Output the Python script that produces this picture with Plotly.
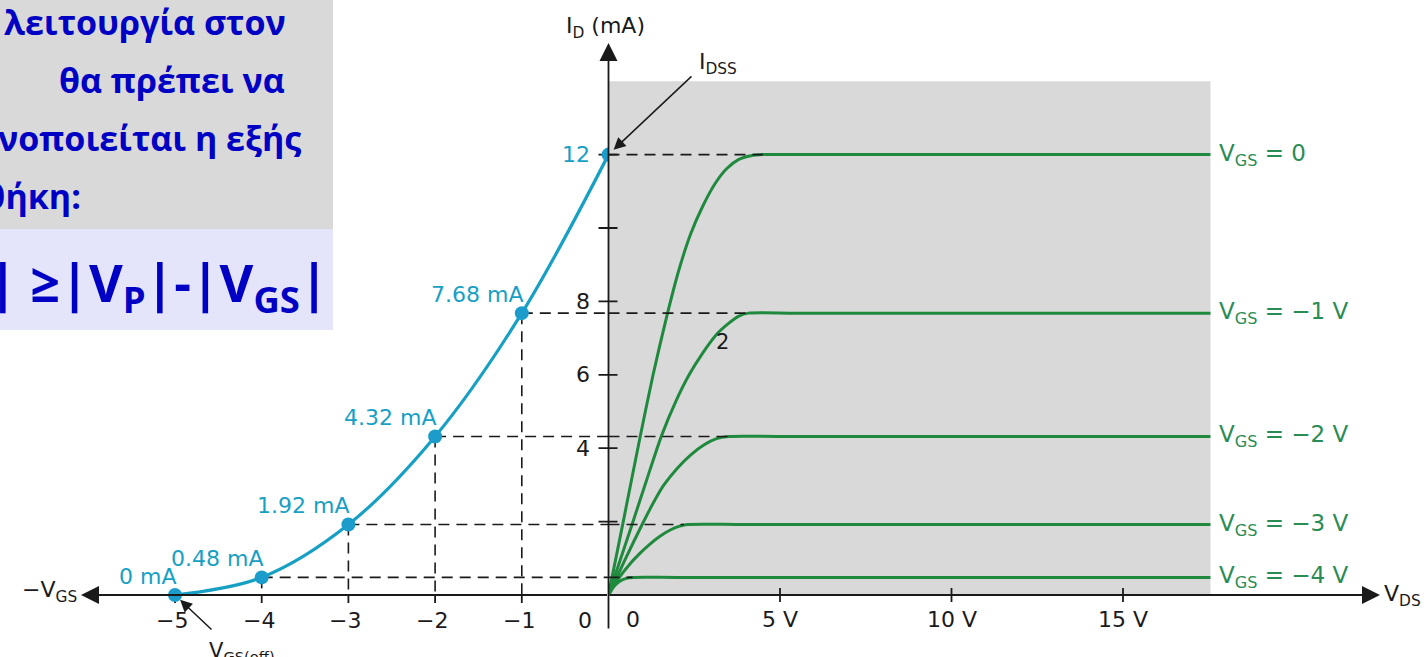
import plotly.graph_objects as go

# ---------------- data ----------------
# transfer characteristic (left half)
vgs_values = [-5, -4, -3, -2, -1, 0]                  # V
id_transfer = [0, 0.48, 1.92, 4.32, 7.68, 12]         # mA
transfer_labels = ["0 mA", "0.48 mA", "1.92 mA", "4.32 mA", "7.68 mA", ""]

# tick values / labels
vgs_tick_vals = [-5, -4, -3, -2, -1, 0]
vgs_tick_text = ["−5", "−4", "−3", "−2", "−1", "0"]
vds_tick_vals = [0, 5, 10, 15]
vds_tick_text = ["0", "5 V", "10 V", "15 V"]
id_tick_vals = [2, 4, 6, 8, 10, 12]
id_tick_text = ["", "4", "6", "8", "", "12"]

# drain characteristics (right half)
curve_labels = ["V<sub>GS</sub> = 0", "V<sub>GS</sub> = −1 V", "V<sub>GS</sub> = −2 V",
                "V<sub>GS</sub> = −3 V", "V<sub>GS</sub> = −4 V"]
vds_0 = [0, 0.43, 0.92, 1.30, 1.70, 2.05, 2.40, 2.75, 3.10, 3.45, 3.80, 4.15, 4.5, 6.0, 17.55]
id_0 = [0, 2.0, 4.3, 6.0, 7.6, 8.85, 9.85, 10.6, 11.2, 11.62, 11.87, 11.97, 12, 12, 12]
vds_1 = [0, 0.68, 1.10, 1.55, 1.95, 2.35, 2.75, 3.15, 3.50, 3.80, 4.08, 5.5, 17.55]
id_1 = [0, 1.9, 3.1, 4.35, 5.25, 6.0, 6.6, 7.1, 7.4, 7.6, 7.68, 7.68, 7.68]
vds_2 = [0, 0.50, 0.97, 1.30, 1.60, 2.00, 2.40, 2.80, 3.15, 3.50, 5.0, 17.55]
id_2 = [0, 1.0, 1.9, 2.5, 2.98, 3.45, 3.82, 4.1, 4.26, 4.32, 4.32, 4.32]
vds_3 = [0, 0.30, 0.60, 0.90, 1.20, 1.50, 1.80, 2.05, 2.30, 4.0, 17.55]
id_3 = [0, 0.46, 0.82, 1.12, 1.38, 1.6, 1.77, 1.87, 1.92, 1.92, 1.92]
vds_4 = [0, 0.12, 0.25, 0.40, 0.55, 0.72, 2.0, 17.55]
id_4 = [0, 0.19, 0.32, 0.41, 0.46, 0.48, 0.48, 0.48]
sat_levels = [12, 7.68, 4.32, 1.92, 0.48]
knee_vds = [4.5, 4.05, 3.5, 2.2, 0.7]
ohmic_region_vds = 17.55
ohmic_region_id = 14

# Greek note (top-left)
note_lines = ["λειτουργία στον", "θα πρέπει να", "ικανοποιείται η εξής", "συνθήκη:"]
note_formula = "|V<sub>DS</sub>| ≥|V<sub>P</sub>|-|V<sub>GS</sub>|"

# ---------------- layout geometry ----------------
W, H = 1427, 657
X0_PX = 608.5          # pixel column of the vertical axis
Y0_PX = 595.0          # pixel row of the horizontal axis
PX_PER_VGS = 86.7
PX_PER_VDS = 34.3
PX_PER_MA = 36.7

split = X0_PX / W
vgs_range = [-X0_PX / PX_PER_VGS, 0]
vds_range = [0, (W - X0_PX) / PX_PER_VDS]
id_range = [-(H - Y0_PX) / PX_PER_MA, Y0_PX / PX_PER_MA]


def px_to_vgs(px):
    return (px - X0_PX) / PX_PER_VGS


def px_to_vds(px):
    return (px - X0_PX) / PX_PER_VDS


def py_to_id(py):
    return (Y0_PX - py) / PX_PER_MA


GREEN = "#1f8a3e"
LABEL_GREEN = "#2a8c55"
CYAN = "#17a0c4"
DOT = "#1b9ccb"
INK = "#1a1a1a"
FONT = "DejaVu Sans"

fig = go.Figure()

# drain curves
for vx, iy in [(vds_0, id_0), (vds_1, id_1), (vds_2, id_2), (vds_3, id_3), (vds_4, id_4)]:
    fig.add_trace(go.Scatter(x=vx, y=iy, xaxis="x2", yaxis="y", mode="lines",
                             line=dict(color=GREEN, width=3, shape="spline", smoothing=0.7),
                             hoverinfo="skip", showlegend=False))

# dashed projection lines
dash_style = dict(color=INK, width=1.6, dash="11px,7px")
lx, ly, vx_, vy_ = [], [], [], []
for v, i in zip(vgs_values, id_transfer):
    if v < 0 and i > 0:
        lx += [v, 0, None]
        ly += [i, i, None]
        vx_ += [v, v, None]
        vy_ += [i, 0, None]
fig.add_trace(go.Scatter(x=lx, y=ly, xaxis="x", yaxis="y", mode="lines", line=dash_style,
                         hoverinfo="skip", showlegend=False))
fig.add_trace(go.Scatter(x=vx_, y=vy_, xaxis="x", yaxis="y", mode="lines", line=dash_style,
                         hoverinfo="skip", showlegend=False))
rx, ry = [], []
for lvl, k in zip(sat_levels, knee_vds):
    rx += [0, k, None]
    ry += [lvl, lvl, None]
fig.add_trace(go.Scatter(x=rx, y=ry, xaxis="x2", yaxis="y", mode="lines", line=dash_style,
                         hoverinfo="skip", showlegend=False))

# tick marks
tick_line = dict(color=INK, width=1.8)
tx, ty = [], []
for v in vgs_tick_vals:
    if v != 0:
        tx += [v, v, None]
        ty += [0, -8 / PX_PER_MA, None]
fig.add_trace(go.Scatter(x=tx, y=ty, xaxis="x", yaxis="y", mode="lines", line=tick_line,
                         hoverinfo="skip", showlegend=False))
tx, ty = [], []
for v in vds_tick_vals:
    if v != 0:
        tx += [v, v, None]
        ty += [7 / PX_PER_MA, -7 / PX_PER_MA, None]
for i in id_tick_vals:
    tx += [0, 9 / PX_PER_VDS, None]
    ty += [i, i, None]
fig.add_trace(go.Scatter(x=tx, y=ty, xaxis="x2", yaxis="y", mode="lines", line=tick_line,
                         hoverinfo="skip", showlegend=False, cliponaxis=False))
tx, ty = [], []
for i in id_tick_vals:
    tx += [-10 / PX_PER_VGS, 0, None]
    ty += [i, i, None]
fig.add_trace(go.Scatter(x=tx, y=ty, xaxis="x", yaxis="y", mode="lines", line=tick_line,
                         hoverinfo="skip", showlegend=False, cliponaxis=False))

# transfer curve + points
fig.add_trace(go.Scatter(x=vgs_values, y=id_transfer, xaxis="x", yaxis="y", mode="lines",
                         line=dict(color=CYAN, width=3.2, shape="spline", smoothing=1.0),
                         hoverinfo="skip", showlegend=False, cliponaxis=False))
fig.add_trace(go.Scatter(x=vgs_values, y=id_transfer, xaxis="x", yaxis="y", mode="markers",
                         marker=dict(color=DOT, size=14), hoverinfo="skip",
                         showlegend=False, cliponaxis=False))

annotations = []


def arrow(xref, x, y, ax, ay, standoff=0, width=1.8, size=2.0):
    annotations.append(dict(xref=xref, yref="y", x=x, y=y, axref=xref, ayref="y", ax=ax, ay=ay,
                            text="", showarrow=True, arrowhead=2, arrowsize=size,
                            arrowwidth=width, arrowcolor=INK, standoff=standoff))


def label(text, xref, x, y, size=22, color=INK, xanchor="center", yanchor="middle",
          xshift=0, yshift=0, yref="y", family=FONT):
    annotations.append(dict(xref=xref, yref=yref, x=x, y=y, text=text, showarrow=False,
                            xanchor=xanchor, yanchor=yanchor, xshift=xshift, yshift=yshift,
                            font=dict(family=family, size=size, color=color)))


# axes with arrows
arrow("x", px_to_vgs(81), 0, 0, 0)
arrow("x2", px_to_vds(1380), 0, 0, 0)
arrow("x2", 0, py_to_id(43), 0, py_to_id(630))
label("−V<sub>GS</sub>", "x", px_to_vgs(79), 0, xanchor="right", yshift=4)
label("V<sub>DS</sub>", "x2", px_to_vds(1382), 0, xanchor="left", yshift=0)
label("I<sub>D</sub> (mA)", "x2", 0, py_to_id(27), xanchor="center", xshift=-3)

# tick labels
for v, t in zip(vgs_tick_vals, vgs_tick_text):
    label(t, "x", v, 0, yshift=-25, xshift=(-24 if v == 0 else -3))
for v, t in zip(vds_tick_vals, vds_tick_text):
    label(t, "x2", v, 0, yshift=-24, xshift=(24 if v == 0 else 0))
for i, t in zip(id_tick_vals, id_tick_text):
    if t:
        label(t, "x", 0, i, xanchor="right", xshift=-17,
              color=(CYAN if i == 12 else INK))

# transfer point labels
for v, i, t in zip(vgs_values, id_transfer, transfer_labels):
    if t:
        label(t, "x", v, i, xanchor="right", xshift=3, yshift=19, color=CYAN)

# I_DSS and V_GS(off) callouts
arrow("x2", 0, 12, px_to_vds(693), py_to_id(75), standoff=7, width=1.5, size=1.6)
label("I<sub>DSS</sub>", "x2", px_to_vds(697), py_to_id(63), xanchor="left")
arrow("x", -5, 0, px_to_vgs(213), py_to_id(631), standoff=7, width=1.5, size=1.6)
label("V<sub>GS(off)</sub>", "x", px_to_vgs(207), py_to_id(637), xanchor="left", yanchor="top",
      size=21)

# curve labels
for lvl, t in zip(sat_levels, curve_labels):
    label(t, "x2", px_to_vds(1217), lvl, xanchor="left", color=LABEL_GREEN, size=23)

label("2", "x2", px_to_vds(722), py_to_id(342), size=21)

# Greek note box
NOTE_FONT = "Open Sans"
NOTE_COLOR = "#0000c4"
label("<b>" + note_lines[0] + "</b>", "paper", 288 / W, 1 - 22 / H, yref="paper",
      xanchor="right", size=34, color=NOTE_COLOR, family=NOTE_FONT)
label("<b>" + note_lines[1] + "</b>", "paper", 172 / W, 1 - 80 / H, yref="paper",
      xanchor="center", size=34, color=NOTE_COLOR, family=NOTE_FONT)
label("<b>" + note_lines[2] + "</b>", "paper", 303 / W, 1 - 138 / H, yref="paper",
      xanchor="right", size=34, color=NOTE_COLOR, family=NOTE_FONT)
label("<b>" + note_lines[3] + "</b>", "paper", 83 / W, 1 - 196 / H, yref="paper",
      xanchor="right", size=34, color=NOTE_COLOR, family=NOTE_FONT)
label("<b>" + note_formula + "</b>", "paper", 330 / W, 1 - 285 / H, yref="paper",
      xanchor="right", size=52, color=NOTE_COLOR, family=NOTE_FONT)

shapes = [
    dict(type="rect", xref="x2", yref="y", x0=0, x1=ohmic_region_vds, y0=0, y1=ohmic_region_id,
         fillcolor="#d9d9d9", line=dict(width=0), layer="below"),
    dict(type="rect", xref="paper", yref="paper", x0=0, x1=333 / W, y0=1 - 229 / H, y1=1,
         fillcolor="#d9d9d9", line=dict(width=0), layer="below"),
    dict(type="rect", xref="paper", yref="paper", x0=0, x1=333 / W, y0=1 - 330 / H,
         y1=1 - 229 / H, fillcolor="#e4e4fa", line=dict(width=0), layer="below"),
]

hidden = dict(visible=False, showgrid=False, zeroline=False, fixedrange=True)
fig.update_layout(
    width=W, height=H, autosize=False,
    margin=dict(l=0, r=0, t=0, b=0, pad=0),
    paper_bgcolor="white", plot_bgcolor="rgba(0,0,0,0)",
    xaxis=dict(domain=[0, split], range=vgs_range, anchor="y", **hidden),
    xaxis2=dict(domain=[split, 1], range=vds_range, anchor="y", **hidden),
    yaxis=dict(domain=[0, 1], range=id_range, anchor="x", **hidden),
    shapes=shapes, annotations=annotations, showlegend=False,
)

fig.write_html(
    "out.html",
    config={"displayModeBar": False},
    post_script="document.body.style.margin='0px';document.body.style.overflow='hidden';",
)
